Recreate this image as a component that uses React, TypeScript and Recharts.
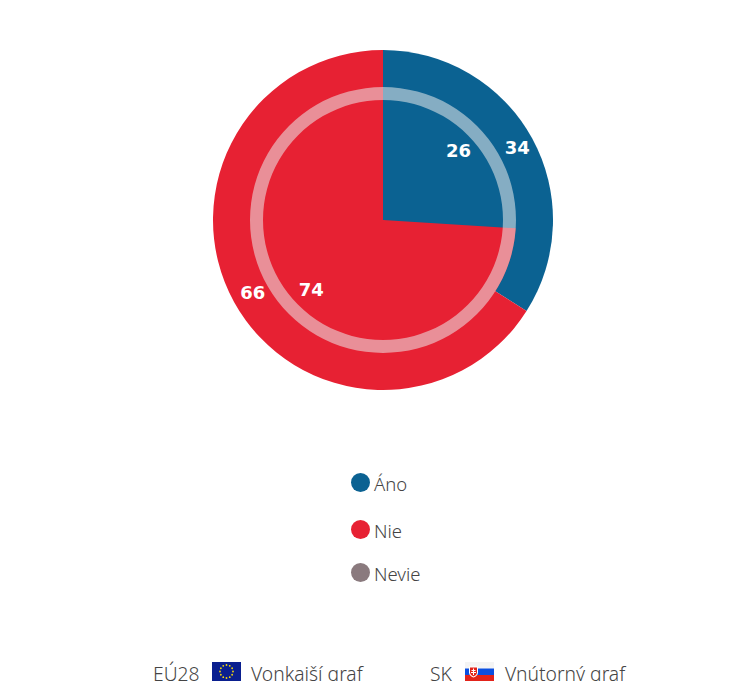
import { PieChart, Pie, Cell } from "recharts";

const categories = ["Áno", "Nie", "Nevie"];
const outerValues = [34, 66, 0]; // EÚ28
const innerValues = [26, 74, 0]; // SK
const ringValues = [100];
const COLORS = ["#0b6292", "#e72133", "#8a7a7e"];

const outerData = categories.map((name, i) => ({ name, value: outerValues[i] }));
const innerData = categories.map((name, i) => ({ name, value: innerValues[i] }));
const ringData = ringValues.map((value) => ({ name: "ring", value }));

const legendTops = [483, 530, 573];
const RAD = Math.PI / 180;
const TEXT_FONT = "'Noto Sans', sans-serif";

// white bold value placed at a fixed radius along the slice middle
const valueLabel = (radius: number) => (props: any) => {
  if (!props.value) return null;
  const x = props.cx + radius * Math.cos(-props.midAngle * RAD);
  const y = props.cy + radius * Math.sin(-props.midAngle * RAD);
  return (
    <text
      x={x + 2}
      y={y}
      dy={1.5}
      fill="#fff"
      fontSize={18}
      fontWeight={700}
      fontFamily="'DejaVu Sans', sans-serif"
      textAnchor="middle"
      dominantBaseline="middle"
    >
      {props.value}
    </text>
  );
};

const EuFlag = () => (
  <svg width={29} height={19} style={{ display: "block" }}>
    <rect width={29} height={19} fill="#0a1f8f" />
    {Array.from({ length: 12 }).map((_, i) => (
      <circle
        key={i}
        cx={14.5 + 6.5 * Math.cos((i * 30 * Math.PI) / 180)}
        cy={9.5 + 6.5 * Math.sin((i * 30 * Math.PI) / 180)}
        r={0.9}
        fill="#f5d90a"
      />
    ))}
  </svg>
);

const SkFlag = () => (
  <svg width={29} height={19} style={{ display: "block" }}>
    <rect width={29} height={6.5} fill="#f4f4f4" />
    <rect y={6.5} width={29} height={6.5} fill="#0b4fe0" />
    <rect y={13} width={29} height={6} fill="#e2231a" />
    <path d="M4 4.5h9v6c0 2.5-2 4-4.5 5C6 14.500 4 13 4 10.500z" fill="#fff" />
    <path d="M5 5.500h7v5c0 2-1.500 3-3.500 4C7 13.500 5 12.500 5 10.500z" fill="#e2231a" />
    <path d="M8 6.500h1v1.500h1.500v1H9v1h2v1H9v2H8v-2H6v-1h2V9H6.500V8H8z" fill="#fff" />
  </svg>
);

const footerText = (left: number, text: string) => (
  <div
    style={{
      position: "absolute",
      left,
      top: 660,
      fontSize: 19.3,
      lineHeight: "27px",
      color: "#444",
      fontFamily: TEXT_FONT,
      fontWeight: 300,
      whiteSpace: "nowrap",
    }}
  >
    {text}
  </div>
);

export default function App() {
  return (
    <div
      style={{
        position: "fixed",
        left: 0,
        top: 0,
        width: 748,
        height: 681,
        overflow: "hidden",
        background: "#fff",
      }}
    >
      <PieChart width={748} height={440} margin={{ top: 0, right: 0, bottom: 0, left: 0 }}>
        <Pie
          data={outerData}
          dataKey="value"
          cx={383}
          cy={220}
          innerRadius={0}
          outerRadius={170}
          startAngle={90}
          endAngle={-270}
          stroke="none"
          label={valueLabel(151)}
          labelLine={false}
          isAnimationActive={false}
        >
          {outerData.map((d, i) => (
            <Cell key={d.name} fill={COLORS[i]} />
          ))}
        </Pie>
        <Pie
          data={innerData}
          dataKey="value"
          cx={383}
          cy={220}
          innerRadius={0}
          outerRadius={133}
          startAngle={90}
          endAngle={-270}
          stroke="none"
          label={valueLabel(101)}
          labelLine={false}
          isAnimationActive={false}
        >
          {innerData.map((d, i) => (
            <Cell key={d.name} fill={COLORS[i]} />
          ))}
        </Pie>
        <Pie
          data={ringData}
          dataKey="value"
          cx={383}
          cy={220}
          innerRadius={120}
          outerRadius={133}
          startAngle={90}
          endAngle={-270}
          stroke="none"
          fill="#ebebeb"
          fillOpacity={0.55}
          isAnimationActive={false}
        />
      </PieChart>

      {/* legend */}
      {categories.map((name, i) => (
        <div key={name}>
          <div
            style={{
              position: "absolute",
              left: 351,
              top: legendTops[i] - 10,
              width: 19,
              height: 19,
              borderRadius: "50%",
              background: COLORS[i],
            }}
          />
          <div
            style={{
              position: "absolute",
              left: 374,
              top: legendTops[i] - 13,
              fontSize: 18.5,
              lineHeight: "28px",
              color: "#444",
              fontFamily: TEXT_FONT,
              fontWeight: 300,
            }}
          >
            {name}
          </div>
        </div>
      ))}

      {/* footer key */}
      {footerText(153, "EÚ28")}
      <div style={{ position: "absolute", left: 212, top: 662 }}>
        <EuFlag />
      </div>
      {footerText(251, "Vonkajší graf")}
      {footerText(430, "SK")}
      <div style={{ position: "absolute", left: 465, top: 662 }}>
        <SkFlag />
      </div>
      {footerText(505, "Vnútorný graf")}
    </div>
  );
}
